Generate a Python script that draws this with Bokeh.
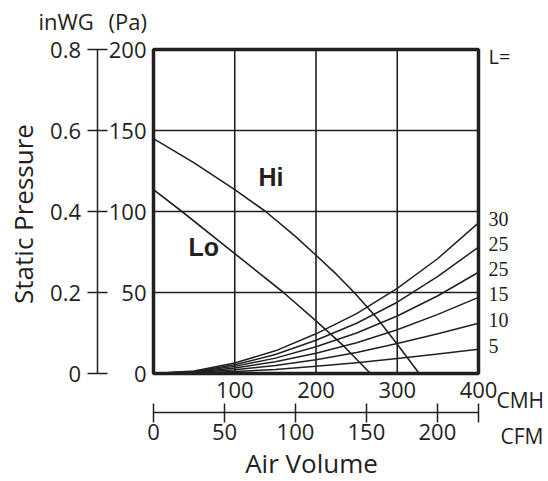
import math
from bokeh.plotting import figure
from bokeh.models import (LinearAxis, Range1d, FixedTicker, Label, LabelSet,
                          ColumnDataSource, BoxAnnotation)
from bokeh.embed import file_html
from bokeh.resources import INLINE

# ---------------- data ----------------
X_MAX, Y_MAX = 400, 200            # CMH, Pa
INWG_MAX = 0.8
CFM_MAX = 229                      # CFM at 400 CMH, as drawn on the chart
CMH_TICKS = [100, 200, 300, 400]
PA_TICKS = [0, 50, 100, 150, 200]
INWG_TICKS = [0, 0.2, 0.4, 0.6, 0.8]
CFM_TICKS = [0, 50, 100, 150, 200]
GRID_X = [100, 200, 300]
GRID_Y = [50, 100, 150]

HI_CMH = [0, 50, 100, 138, 175, 200, 225, 247, 275, 300, 327]
HI_PA = [145, 130, 113.5, 100, 84.5, 73, 61.3, 50, 34.3, 18, 0]
LO_CMH = [0, 35, 100, 160, 200, 234, 267]
LO_PA = [113.5, 100, 74, 50, 32.5, 17, 0]

SYS_CMH = [0, 50, 100, 150, 200, 250, 300, 350, 400]
SYS_L30 = [0, 1.6, 6.5, 14, 24.5, 37, 52.5, 71, 93]
SYS_L25A = [0, 1.3, 5.4, 11.7, 20.5, 31, 44, 60, 78]
SYS_L25B = [0, 1.1, 4.4, 9.5, 16.5, 25, 35.5, 48, 62.5]
SYS_L15 = [0, 0.8, 3.4, 7.2, 12.5, 19, 27, 36.5, 47]
SYS_L10 = [0, 0.6, 2.3, 4.9, 8.5, 13, 18.5, 24.5, 31]
SYS_L5 = [0, 0.3, 1.2, 2.5, 4.4, 6.6, 9.2, 12, 15]
SYS_CURVES = [SYS_L30, SYS_L25A, SYS_L25B, SYS_L15, SYS_L10, SYS_L5]
SYS_LABELS = ["30", "25", "25", "15", "10", "5"]

# ---------------- layout (pixels) ----------------
W, H = 548, 481
FRAME_L, FRAME_R, FRAME_T, FRAME_B = 153, 478, 49, 373
PX_X = (FRAME_R - FRAME_L) / X_MAX
PX_Y = (FRAME_B - FRAME_T) / Y_MAX


def col2x(c):
    return (c - FRAME_L) / PX_X


def row2y(r):
    return (FRAME_B - r) / PX_Y


INK = "#231F20"
FONT = "Open Sans"
BOLD_FONT = "Liberation Sans"

x_lo, x_hi = col2x(0), col2x(W)
y_lo, y_hi = row2y(H), row2y(0)

p = figure(width=W, height=H,
           x_range=Range1d(x_lo, x_hi), y_range=Range1d(y_lo, y_hi),
           x_axis_type=None, y_axis_type=None,
           output_backend="svg", toolbar_location=None, min_border=0)
p.outline_line_color = None
p.background_fill_color = "white"
p.border_fill_color = "white"

p.extra_x_ranges = {"cfm": Range1d(x_lo * CFM_MAX / X_MAX, x_hi * CFM_MAX / X_MAX)}
p.extra_y_ranges = {"inwg": Range1d(y_lo * INWG_MAX / Y_MAX, y_hi * INWG_MAX / Y_MAX)}

# ---------------- grid ----------------
p.segment(x0=GRID_X, y0=[0] * len(GRID_X), x1=GRID_X, y1=[Y_MAX] * len(GRID_X),
          line_color=INK, line_width=1.6)
p.segment(x0=[0] * len(GRID_Y), y0=GRID_Y, x1=[X_MAX] * len(GRID_Y), y1=GRID_Y,
          line_color=INK, line_width=1.6)

# ---------------- curves ----------------
p.line(HI_CMH, HI_PA, line_color=INK, line_width=1.6, line_join="round")
p.line(LO_CMH, LO_PA, line_color=INK, line_width=1.6, line_join="round")
for ys in SYS_CURVES:
    p.line(SYS_CMH, ys, line_color=INK, line_width=1.5, line_join="round")

# plot frame
p.add_layout(BoxAnnotation(left=0, right=X_MAX, bottom=0, top=Y_MAX,
                           fill_color=None, line_color=INK, line_alpha=1.0,
                           line_width=3.5))


def style(ax, size="22px"):
    ax.major_label_text_font = FONT
    ax.major_label_text_font_size = size
    ax.major_label_text_color = INK
    ax.minor_tick_line_color = None


# ---------------- axes ----------------
pa_axis = LinearAxis(fixed_location=0, bounds=(0, Y_MAX),
                     ticker=FixedTicker(ticks=PA_TICKS),
                     axis_line_color=None, major_tick_line_color=None,
                     major_tick_in=0, major_tick_out=0, major_label_standoff=7)
style(pa_axis)
p.add_layout(pa_axis, "left")

inwg_axis = LinearAxis(y_range_name="inwg", fixed_location=col2x(96.5),
                       bounds=(0, INWG_MAX), ticker=FixedTicker(ticks=INWG_TICKS),
                       major_label_overrides={0: "0"},
                       axis_line_color=INK, axis_line_width=1.5,
                       major_tick_line_color=INK, major_tick_line_width=1.5,
                       major_tick_in=10, major_tick_out=10, major_label_standoff=6)
style(inwg_axis)
p.add_layout(inwg_axis, "left")

cmh_axis = LinearAxis(fixed_location=0, bounds=(0, X_MAX),
                      ticker=FixedTicker(ticks=CMH_TICKS),
                      axis_line_color=None, major_tick_line_color=None,
                      major_tick_in=0, major_tick_out=0, major_label_standoff=8)
style(cmh_axis)
p.add_layout(cmh_axis, "below")

cfm_axis = LinearAxis(x_range_name="cfm", fixed_location=row2y(411.5),
                      bounds=(0, CFM_MAX),
                      ticker=FixedTicker(ticks=CFM_TICKS + [CFM_MAX]),
                      major_label_overrides={CFM_MAX: ""},
                      axis_line_color=INK, axis_line_width=1.5,
                      major_tick_line_color=INK, major_tick_line_width=1.5,
                      major_tick_in=9, major_tick_out=10, major_label_standoff=2)
style(cfm_axis)
p.add_layout(cfm_axis, "below")

# ---------------- texts ----------------


def text(c, r, s, size, align="left", angle=0.0, bold=False):
    p.add_layout(Label(x=col2x(c), y=row2y(r), text=s, angle=angle,
                       text_font=BOLD_FONT if bold else FONT,
                       text_font_style="bold" if bold else "normal",
                       text_font_size=size, text_color=INK,
                       text_align=align, text_baseline="middle"))


text(38, 20, "inWG", "22px")
text(108, 20, "(Pa)", "22px")
text(22.5, 213.5, "Static Pressure", "26px", align="center", angle=math.pi / 2)
text(311, 462, "Air Volume", "26px", align="center")
text(496, 399.5, "CMH", "21px")
text(500, 435, "CFM", "21px")
text(488, 55.5, "L=", "20px")
text(258, 176.5, "Hi", "25px", bold=True)
text(188, 246.5, "Lo", "25px", bold=True)

ends = ColumnDataSource(dict(x=[SYS_CMH[-1]] * len(SYS_CURVES),
                             y=[c[-1] for c in SYS_CURVES],
                             t=SYS_LABELS))
p.add_layout(LabelSet(x="x", y="y", text="t", source=ends, x_offset=10,
                      y_offset=-3.5, text_font=FONT, text_font_size="20px",
                      text_color=INK, text_baseline="alphabetic"))

open("out.html", "w").write(file_html(p, INLINE))
